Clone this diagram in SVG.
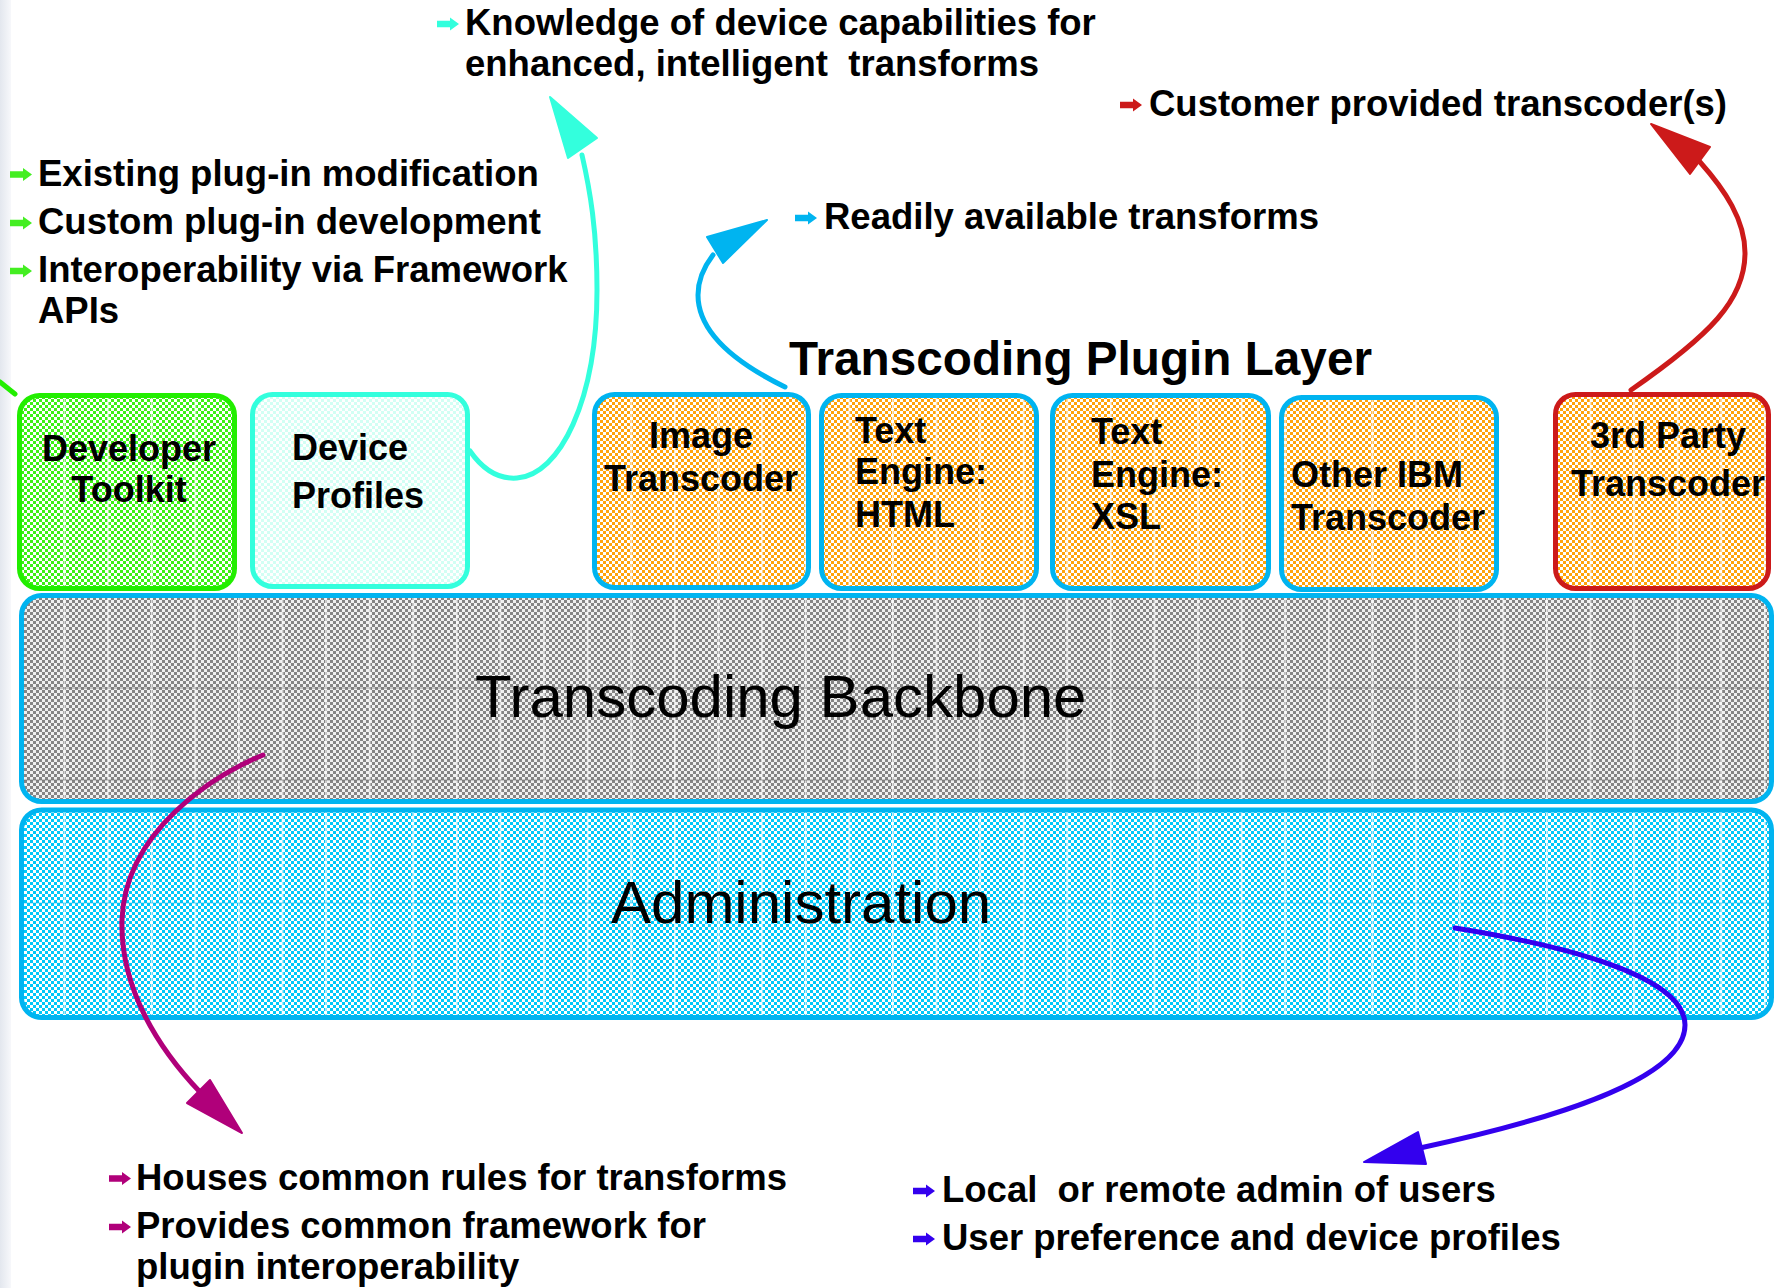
<svg xmlns="http://www.w3.org/2000/svg" width="1775" height="1288" viewBox="0 0 1775 1288">
<defs>
  <linearGradient id="edge" x1="0" y1="0" x2="1" y2="0">
    <stop offset="0" stop-color="#e3e7ee"/>
    <stop offset="1" stop-color="#f7f8fb"/>
  </linearGradient>
  <pattern id="pGreen" width="6" height="6" patternUnits="userSpaceOnUse"><rect width="6" height="6" fill="#ffffff"/><path d="M0 0h3v3H0zM3 3h3v3H3z" fill="#3cf014"/></pattern>
  <pattern id="pAqua" width="6" height="6" patternUnits="userSpaceOnUse"><rect width="6" height="6" fill="#ffffff"/><path d="M0 0h3v3H0zM3 3h3v3H3z" fill="#d2fff4"/></pattern>
  <pattern id="pOrange" width="6" height="6" patternUnits="userSpaceOnUse"><rect width="6" height="6" fill="#ffffff"/><path d="M0 0h3v3H0zM3 3h3v3H3z" fill="#ffa30a"/></pattern>
  <pattern id="pGray" width="6" height="6" patternUnits="userSpaceOnUse"><rect width="6" height="6" fill="#f0f0f0"/><path d="M0 0h3v3H0zM3 3h3v3H3z" fill="#858585"/></pattern>
  <pattern id="pCyan" width="6" height="6" patternUnits="userSpaceOnUse"><rect width="6" height="6" fill="#ffffff"/><path d="M0 0h3v3H0zM3 3h3v3H3z" fill="#00c8f8"/></pattern>
  <pattern id="vlines" x="20" y="0" width="43.6" height="200" patternUnits="userSpaceOnUse"><rect x="0" y="0" width="1.6" height="200" fill="#ffffff" fill-opacity="0.75"/></pattern>
  <path id="bl" d="M0 -3.3H13V-6.5L22 0L13 6.5V3.3H0Z"/>
</defs>
<style>
  .t{font-family:"Liberation Sans",Arial,Helvetica,sans-serif;font-weight:bold;font-size:36.5px;fill:#000}
  .bx{font-size:36px}
  .big{font-family:"Liberation Sans",Arial,Helvetica,sans-serif;font-weight:normal;font-size:60px;fill:#000}
  .title{font-size:47.7px}
  .sb{stroke:#00b4f0;stroke-width:5}
  .ov{fill:url(#vlines)}
  .con{fill:none;stroke-width:5;stroke-linecap:round}
</style>

<rect x="0" y="0" width="1775" height="1288" fill="#ffffff"/>
<rect x="0" y="0" width="11" height="1288" fill="url(#edge)"/>

<g id="backbone">
  <rect x="21.5" y="595.5" width="1750" height="206" rx="20" fill="url(#pGray)"/>
  <rect x="21.5" y="595.5" width="1750" height="206" rx="20" class="ov"/>
  <path d="M24 688H1769M24 780H1769" stroke="#6e6e6e" stroke-width="1" stroke-opacity="0.6"/>
  <rect x="21.5" y="595.5" width="1750" height="206" rx="20" fill="none" class="sb"/>
  <text x="475" y="717" class="big">Transcoding Backbone</text>
</g>

<g id="administration">
  <rect x="21.5" y="810" width="1750" height="207.5" rx="20" fill="url(#pCyan)"/>
  <rect x="21.5" y="810" width="1750" height="207.5" rx="20" class="ov"/>
  <path d="M24 903H1769" stroke="#00b4e8" stroke-width="1" stroke-opacity="0.5"/>
  <rect x="21.5" y="810" width="1750" height="207.5" rx="20" fill="none" class="sb"/>
  <text x="611" y="923" class="big">Administration</text>
</g>

<g id="developer-toolkit">
  <rect x="19.5" y="395.5" width="215" height="193" rx="20" fill="url(#pGreen)"/>
  <rect x="19.5" y="395.5" width="215" height="193" rx="20" class="ov"/>
  <rect x="19.5" y="395.5" width="215" height="193" rx="20" fill="none" stroke="#22ee00" stroke-width="5"/>
  <text class="t bx" text-anchor="middle"><tspan x="129" y="461">Developer</tspan><tspan x="129" y="502">Toolkit</tspan></text>
</g>

<g id="device-profiles">
  <rect x="252.5" y="394.5" width="215" height="192" rx="20" fill="url(#pAqua)"/>
  <rect x="252.5" y="394.5" width="215" height="192" rx="20" fill="none" stroke="#33ffdd" stroke-width="5"/>
  <text class="t bx"><tspan x="292" y="460">Device</tspan><tspan x="292" y="508">Profiles</tspan></text>
</g>

<g id="image-transcoder">
  <rect x="594.5" y="394.5" width="214" height="193" rx="20" fill="url(#pOrange)"/>
  <rect x="594.5" y="394.5" width="214" height="193" rx="20" class="ov"/>
  <rect x="594.5" y="394.5" width="214" height="193" rx="20" fill="none" class="sb"/>
  <text class="t bx" text-anchor="middle"><tspan x="701" y="448">Image</tspan><tspan x="701" y="491">Transcoder</tspan></text>
</g>

<g id="text-engine-html">
  <rect x="821.5" y="395.5" width="215" height="193" rx="20" fill="url(#pOrange)"/>
  <rect x="821.5" y="395.5" width="215" height="193" rx="20" class="ov"/>
  <rect x="821.5" y="395.5" width="215" height="193" rx="20" fill="none" class="sb"/>
  <text class="t bx"><tspan x="855" y="443">Text</tspan><tspan x="855" y="484">Engine:</tspan><tspan x="855" y="527">HTML</tspan></text>
</g>

<g id="text-engine-xsl">
  <rect x="1052.5" y="395.5" width="216" height="193" rx="20" fill="url(#pOrange)"/>
  <rect x="1052.5" y="395.5" width="216" height="193" rx="20" class="ov"/>
  <rect x="1052.5" y="395.5" width="216" height="193" rx="20" fill="none" class="sb"/>
  <text class="t bx"><tspan x="1091" y="444">Text</tspan><tspan x="1091" y="487">Engine:</tspan><tspan x="1091" y="529">XSL</tspan></text>
</g>

<g id="other-ibm-transcoder">
  <rect x="1281.5" y="397.5" width="215" height="192" rx="20" fill="url(#pOrange)"/>
  <rect x="1281.5" y="397.5" width="215" height="192" rx="20" class="ov"/>
  <rect x="1281.5" y="397.5" width="215" height="192" rx="20" fill="none" class="sb"/>
  <text class="t bx"><tspan x="1291" y="487">Other IBM</tspan><tspan x="1291" y="530">Transcoder</tspan></text>
</g>

<g id="third-party-transcoder">
  <rect x="1555.5" y="394.5" width="213" height="194" rx="20" fill="url(#pOrange)"/>
  <rect x="1555.5" y="394.5" width="213" height="194" rx="20" class="ov"/>
  <rect x="1555.5" y="394.5" width="213" height="194" rx="20" fill="none" stroke="#cc1a1a" stroke-width="5"/>
  <text class="t bx" text-anchor="middle"><tspan x="1668" y="448">3rd Party</tspan><tspan x="1668" y="496">Transcoder</tspan></text>
</g>

<g id="plugin-layer-title">
  <text x="789" y="375" class="t title">Transcoding Plugin Layer</text>
</g>

<g id="note-knowledge">
  <use href="#bl" x="437" y="24" fill="#33ffdd"/>
  <text class="t" xml:space="preserve"><tspan x="465" y="35">Knowledge of device capabilities for</tspan><tspan x="465" y="76">enhanced, intelligent  transforms</tspan></text>
</g>

<g id="note-customer">
  <use href="#bl" x="1120" y="105" fill="#cc1a1a"/>
  <text x="1149" y="116" class="t">Customer provided transcoder(s)</text>
</g>

<g id="note-toolkit">
  <use href="#bl" x="10" y="174.5" fill="#44ee22"/>
  <use href="#bl" x="10" y="223" fill="#44ee22"/>
  <use href="#bl" x="10" y="271" fill="#44ee22"/>
  <text class="t"><tspan x="38" y="185.5">Existing plug-in modification</tspan><tspan x="38" y="234">Custom plug-in development</tspan><tspan x="38" y="282">Interoperability via Framework</tspan><tspan x="38" y="323">APIs</tspan></text>
</g>

<g id="note-readily">
  <use href="#bl" x="795" y="218" fill="#00b4f0"/>
  <text x="824" y="229" class="t">Readily available transforms</text>
</g>

<g id="note-backbone">
  <use href="#bl" x="109" y="1178.5" fill="#b0007a"/>
  <use href="#bl" x="109" y="1227" fill="#b0007a"/>
  <text class="t"><tspan x="136" y="1189.5">Houses common rules for transforms</tspan><tspan x="136" y="1238">Provides common framework for</tspan><tspan x="136" y="1279">plugin interoperability</tspan></text>
</g>

<g id="note-admin">
  <use href="#bl" x="913" y="1191" fill="#3300ee"/>
  <use href="#bl" x="913" y="1239" fill="#3300ee"/>
  <text class="t" xml:space="preserve"><tspan x="942" y="1202">Local  or remote admin of users</tspan><tspan x="942" y="1250">User preference and device profiles</tspan></text>
</g>

<g id="connectors">
  <path d="M0 382L15 394" class="con" stroke="#22ee00" stroke-width="4"/>
  <path d="M470 451Q490 480 517 478C560 475 597 400 597 290C597 230 590 190 582 155" class="con" stroke="#33ffdd"/>
  <polygon points="550,97 568,158 597,138" fill="#33ffdd" stroke="#33ffdd" stroke-width="2" stroke-linejoin="round"/>
  <path d="M785 387C740 365 698 335 698 295C698 280 703 268 713 255" class="con" stroke="#00b4f0"/>
  <polygon points="767,220 707,237 723,263" fill="#00b4f0" stroke="#00b4f0" stroke-width="2" stroke-linejoin="round"/>
  <path d="M1631 390C1710 335 1745 300 1745 253C1745 220 1725 190 1700 162" class="con" stroke="#cc1a1a"/>
  <polygon points="1651,124 1710,147 1690,174" fill="#cc1a1a" stroke="#cc1a1a" stroke-width="2" stroke-linejoin="round"/>
  <path d="M263 755C215 775 125 830 122 920C120 990 160 1050 200 1092" class="con" stroke="#b0007a"/>
  <polygon points="242,1133 187,1103 210,1080" fill="#b0007a" stroke="#b0007a" stroke-width="2" stroke-linejoin="round"/>
  <path d="M1455 928C1560 945 1685 975 1685 1025C1685 1080 1550 1120 1420 1148" class="con" stroke="#3300ee"/>
  <polygon points="1364,1162 1418,1132 1426,1164" fill="#3300ee" stroke="#3300ee" stroke-width="2" stroke-linejoin="round"/>
</g>
</svg>
